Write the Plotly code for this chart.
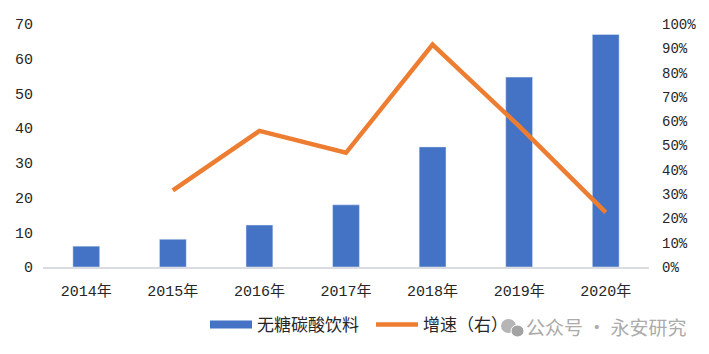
import plotly.graph_objects as go

categories = ["2014年","2015年","2016年","2017年","2018年","2019年","2020年"]
bar_values = [6.0, 8.0, 12.1, 17.9, 34.6, 54.7, 67.0]
growth_values = [None, 0.315, 0.56, 0.47, 0.915, 0.58, 0.225]
left_ticks = list(range(0, 71, 10))
right_ticks = [i/10 for i in range(0, 11)]
font = "Liberation Mono, Noto Sans CJK SC"
W, H = 701, 346
L, R, T, B = 35, 60, 16, 87
PW, PH = W-L-R, H-T-B
def px(x): return (x-8-L)/PW
def py(y): return 1-(y-8-T)/PH

fig = go.Figure()
fig.add_trace(go.Bar(x=categories, y=bar_values, name="无糖碳酸饮料", marker_color="#4472C4", width=0.31, showlegend=False))
fig.add_trace(go.Scatter(x=categories, y=[None]*7, name="无糖碳酸饮料", mode="lines",
                         line=dict(color="#4472C4", width=8)))
fig.add_trace(go.Scatter(x=categories, y=growth_values, name="增速（右）", yaxis="y2", mode="lines", legend="legend2",
                         line=dict(color="#ED7D31", width=4.5)))
fig.update_layout(
    width=W, height=H, paper_bgcolor="white", plot_bgcolor="white",
    margin=dict(l=L, r=R, t=T, b=B, autoexpand=False),
    font=dict(family=font, size=15, color="#262626"),
    xaxis=dict(showline=True, linecolor="#D9DCE0", linewidth=2, ticks="", ticklabelstandoff=9),
    yaxis=dict(range=[0,70], tickvals=left_ticks, showgrid=False, zeroline=False, ticks="", ticklabelstandoff=9),
    yaxis2=dict(range=[0,1], tickvals=right_ticks, tickformat=".0%", overlaying="y", side="right",
                showgrid=False, zeroline=False, ticks="", ticklabelstandoff=12, tickfont=dict(size=14)),
    legend=dict(orientation="h", x=px(205), xanchor="left", y=py(325), yanchor="middle",
                itemwidth=42, font=dict(size=17), bgcolor="rgba(0,0,0,0)"),
    legend2=dict(orientation="h", x=px(371), xanchor="left", y=py(325), yanchor="middle",
                itemwidth=42, font=dict(size=17), bgcolor="rgba(0,0,0,0)"),
    shapes=[
        dict(type="circle", xref="paper", yref="paper", x0=px(501), x1=px(516), y0=py(333), y1=py(319),
             fillcolor="#b5b5b5", line_width=0),
        dict(type="circle", xref="paper", yref="paper", x0=px(511), x1=px(524), y0=py(337), y1=py(325),
             fillcolor="#a3a3a3", line=dict(color="white", width=1)),
    ],
    annotations=[
        dict(text="公众号 · 永安研究", x=px(689), y=py(326), xref="paper", yref="paper", xanchor="right", yanchor="middle",
             showarrow=False, font=dict(size=19, color="#ababab", family="Noto Sans CJK SC"))],
)
fig.write_html("out.html")
